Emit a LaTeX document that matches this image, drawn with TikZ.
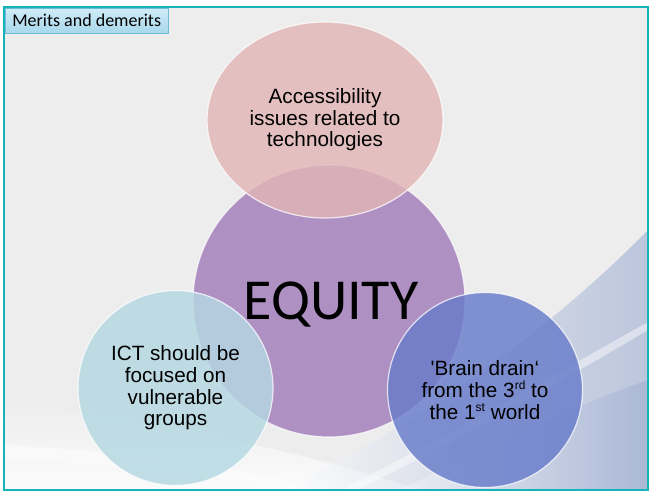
\documentclass[tikz,border=0pt]{standalone}
\usepackage{fontspec}
\usepackage{tikz}
\usetikzlibrary{positioning,shapes.geometric}
\newfontfamily\arialfont{Liberation Sans}
\newfontfamily\calfont{Carlito}
\definecolor{framecyan}{RGB}{22,180,186}
\definecolor{slidegray}{RGB}{237,237,237}
\definecolor{swooshblue}{RGB}{140,160,205}
\definecolor{accesspink}{RGB}{226,182,182}
\definecolor{equitypurple}{RGB}{162,124,186}
\definecolor{ictblue}{RGB}{180,216,226}
\definecolor{drainblue}{RGB}{104,124,202}
\definecolor{tabtop}{RGB}{208,236,248}
\definecolor{tabbottom}{RGB}{168,216,236}
\definecolor{tabedge}{RGB}{110,190,214}
\newcommand{\supx}[1]{\raisebox{0.36em}{\fontsize{12}{12}\selectfont #1}}

\begin{document}
\begin{tikzpicture}[
    x=1pt, y=-1pt,
    bubble/.style={draw=white, line width=1.2pt, draw opacity=0.75, fill opacity=0.82, text opacity=1, inner sep=0pt,
      align=center, font=\arialfont\fontsize{20.7}{21.6}\selectfont},
    roundbubble/.style={bubble, circle, minimum size=195pt}
]
    % Slide background
    \useasboundingbox (0,0) rectangle (651,493);
    \fill[white] (0,0) rectangle (651,493);
    \fill[slidegray] (4,7) rectangle (648,490);
    \shade[top color=slidegray, bottom color=white, opacity=0.8] (5,400) .. controls (150,420) and (300,450) .. (420,490) -- (5,490) -- cycle;
    \fill[white, opacity=0.4] (5,445) .. controls (120,450) and (250,470) .. (330,490) -- (300,490) .. controls (200,475) and (100,462) .. (5,460) -- cycle;
    \shade[left color=white, right color=swooshblue, opacity=0.5] (280,490) .. controls (430,420) and (560,320) .. (648,230) -- (648,490) -- cycle;
    \shade[left color=white, right color=swooshblue, opacity=0.35] (400,490) .. controls (500,440) and (590,400) .. (648,380) -- (648,490) -- cycle;
    \fill[white, opacity=0.45] (340,490) .. controls (460,430) and (580,360) .. (648,322) -- (648,330) .. controls (580,370) and (465,438) .. (356,490) -- cycle;
    \draw[framecyan, line width=2.5pt] (4,7) rectangle (648,490);

    % Title tab
    \node[draw=tabedge, top color=tabtop, bottom color=tabbottom, anchor=north west, inner sep=0pt,
      minimum width=163pt, minimum height=25pt, font=\calfont\fontsize{18}{20}\selectfont] (tab) at (5,8) {Merits and demerits};

    % Bubbles
    \node[roundbubble, minimum size=272pt, fill=equitypurple] (equity) at (329,301) {};
    \node[font=\calfont\fontsize{58}{60}\selectfont, anchor=base] (equitytext) at (331,319) {EQUITY};
    \node[bubble, ellipse, minimum width=236pt, minimum height=196pt, fill=accesspink] (access) at (325,120)
      {Accessibility\\issues related to\\technologies};
    \node[roundbubble, fill=ictblue] (ict) at (175.5,388) {ICT should be\\focused on\\vulnerable\\groups};
    \node[roundbubble, fill=drainblue] (drain) at (485,390)
      {'Brain drain‘\\from the 3\supx{rd} to\\the 1\supx{st} world};
\end{tikzpicture}
\end{document}
